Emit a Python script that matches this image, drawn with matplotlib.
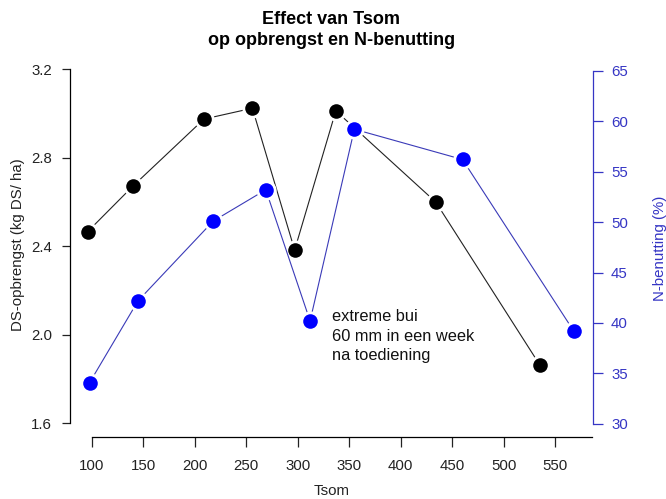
import matplotlib.pyplot as plt

plt.rcParams['font.family'] = ['Liberation Sans', 'DejaVu Sans']

# data
tsom_ds = [96, 140, 209, 256, 297, 337, 434, 535]
ds_opbrengst = [2.466, 2.672, 2.975, 3.024, 2.383, 3.012, 2.600, 1.864]

tsom_n = [98, 145, 218, 269, 312, 355, 460, 568]
n_benutting = [34.1, 42.2, 50.1, 53.2, 40.2, 59.2, 56.2, 39.2]

x_ticks = [100, 150, 200, 250, 300, 350, 400, 450, 500, 550]
y_ticks = [1.6, 2.0, 2.4, 2.8, 3.2]
y2_ticks = [30, 35, 40, 45, 50, 55, 60, 65]

W, H = 666, 499
axblue = '#3535C4'
lineblue = '#3A3AB8'

fig = plt.figure(figsize=(W / 100, H / 100), dpi=100)
ax = fig.add_axes([70 / W, 1 - 437 / H, (593 - 70) / W, (437 - 60) / H])
ax.set_xlim(78.9, 586.7)
ax.set_ylim(1.538, 3.242)

ms = 10.5
ax.plot(tsom_ds, ds_opbrengst, color='#222222', lw=0.8, zorder=1)
ax.plot(tsom_ds, ds_opbrengst, 'o', color='white', ms=ms + 4, mew=0, zorder=2)
ax.plot(tsom_ds, ds_opbrengst, 'o', color='black', ms=ms, mew=0, zorder=3)

ax2 = ax.twinx()
ax2.set_ylim(28.70, 66.06)
ax2.plot(tsom_n, n_benutting, color=lineblue, lw=0.8, zorder=1)
ax2.plot(tsom_n, n_benutting, 'o', color='white', ms=ms + 4, mew=0, zorder=2)
ax2.plot(tsom_n, n_benutting, 'o', color='#0000FF', ms=ms, mew=0, zorder=3)

# R-like axes
for s in ['top', 'right']:
    ax.spines[s].set_visible(False)
for s in ['top', 'left', 'bottom']:
    ax2.spines[s].set_visible(False)
ax.spines['left'].set_bounds(1.6, 3.2)
ax.spines['bottom'].set_bounds(100, 585.5)
ax2.spines['right'].set_bounds(30, 65)
ax2.spines['right'].set_color(axblue)
for sp in [ax.spines['left'], ax.spines['bottom'], ax2.spines['right']]:
    sp.set_linewidth(0.9)

ax.set_xticks(x_ticks)
ax.set_xticklabels([str(v) for v in x_ticks])
ax.set_yticks(y_ticks)
ax.set_yticklabels(['%.1f' % v for v in y_ticks])
ax2.set_yticks(y2_ticks)
ax2.set_yticklabels([str(v) for v in y2_ticks])

ax.tick_params(axis='x', direction='out', length=7, width=0.9, pad=9,
               labelsize=10.8, colors='#222222')
ax.tick_params(axis='y', direction='out', length=6, width=0.9, pad=7,
               labelsize=10.8, colors='#222222')
ax2.tick_params(axis='y', direction='out', length=7, width=0.9, pad=6,
                labelsize=10.8, colors=axblue)

fig.text(331.5 / W, 1 - 491 / H, 'Tsom', ha='center', va='center',
         fontsize=10.8, color='#222222')
fig.text(18 / W, 1 - 245 / H, 'DS-opbrengst (kg DS/ ha)', rotation=90,
         ha='center', va='center', fontsize=10.8, color='#222222')
fig.text(660 / W, 1 - 248 / H, 'N-benutting (%)', rotation=90,
         ha='center', va='center', fontsize=10.8, color=axblue)

fig.text(331.5 / W, 1 - 30 / H, 'Effect van Tsom\nop opbrengst en N-benutting',
         ha='center', va='center', fontsize=13, fontweight='bold',
         linespacing=1.25)

fig.text(332 / W, 1 - 309 / H,
         'extreme bui\n60 mm in een week\nna toediening',
         ha='left', va='top', fontsize=11.8, color='#111111',
         linespacing=1.38)

fig.savefig('out.png', dpi=100)
